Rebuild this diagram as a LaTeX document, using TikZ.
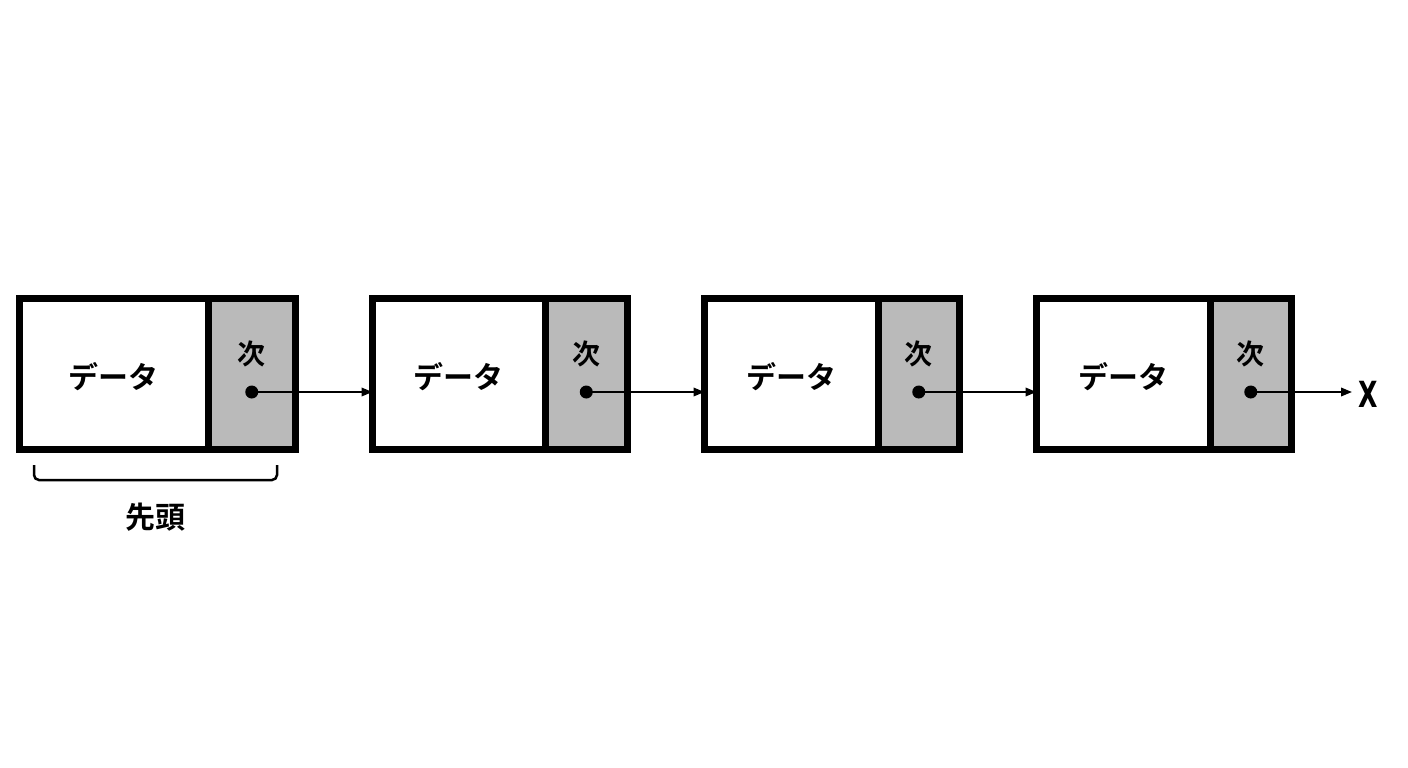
\documentclass[tikz,border=0pt]{standalone}
\usepackage{fontspec}
\newfontfamily\jp{Noto Sans CJK JP}[BoldFont={* Bold}]
\newfontfamily\xf{DejaVu Sans}
\usetikzlibrary{arrows.meta,calc}
\begin{document}
\begin{tikzpicture}[x=1pt,y=-1pt,
  cell/.style={draw=black,line width=7pt,outer sep=0pt,minimum height=151pt,inner sep=0pt,anchor=north west},
  datac/.style={cell,fill=white},
  nextc/.style={cell,fill=black!27},
  lbl/.style={font=\jp\bfseries\fontsize{28pt}{32pt}\selectfont,inner sep=0pt},
  dot/.style={circle,fill=black,inner sep=0pt,minimum size=13pt},
  link/.style={line width=2pt,-{Triangle[length=11pt,width=8.5pt]}}]
\useasboundingbox (0,0) rectangle (1408,768);
\foreach \i/\a/\b/\c in {1/19.5/208/295.5,2/372.5/545/627.5,3/704.5/878/959.5,4/1036.5/1210/1291.5}{
  \pgfmathsetmacro\wa{\b-\a}\pgfmathsetmacro\wb{\c-\b}
  \node[datac,minimum width=\wa pt] (d\i) at (\a,298.5) {};
  \node[font=\jp\bfseries\fontsize{30pt}{34pt}\selectfont,inner sep=0pt] (t\i) at ($(d\i.center)+(0,3)$) {データ};
  \node[nextc,minimum width=\wb pt] (n\i) at (\b,298.5) {};
  \node[lbl] (c\i) at ($(n\i.center)+(0,-20)$) {次};
  \node[dot] (p\i) at ($(n\i.center)+(0,18)$) {};
}
\draw[link] (p1.center) -- (d2.west|-p1);
\draw[link] (p2.center) -- (d3.west|-p2);
\draw[link] (p3.center) -- (d4.west|-p3);
\coordinate (e) at ($(1352,0)!(p4.center)!(1352,10)$);
\draw[link] (p4.center) -- (e);
\node[font=\xf\bfseries\fontsize{36pt}{40pt}\selectfont,inner sep=0pt,xscale=0.7] (x) at (1368,394) {X};
\coordinate (b1) at (34,465);
\coordinate (b2) at (277,465);
\draw[line width=2.5pt,rounded corners=5pt] (b1) -- (34,480) -- (277,480) -- (b2);
\node[font=\jp\bfseries\fontsize{30pt}{34pt}\selectfont,inner sep=0pt] (h) at (155,517) {先頭};
\end{tikzpicture}
\end{document}
